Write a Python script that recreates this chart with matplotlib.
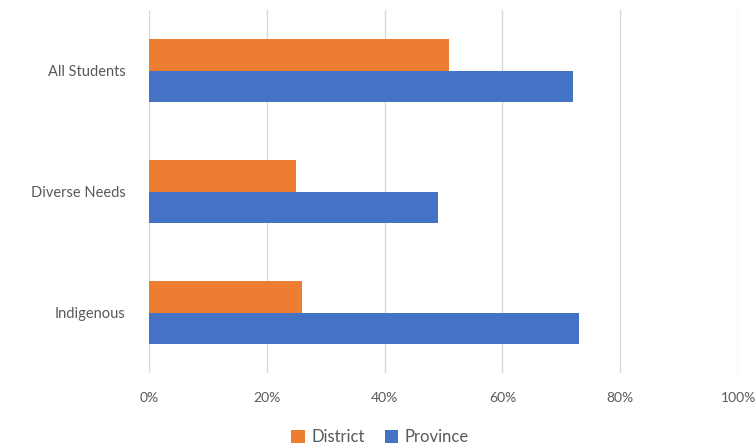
import matplotlib
matplotlib.use("Agg")
import matplotlib.pyplot as plt
import numpy as np
from matplotlib.ticker import PercentFormatter

categories = ["All Students", "Diverse Needs", "Indigenous"]
district = [51, 25, 26]
province = [72, 49, 73]
x_ticks = [0, 20, 40, 60, 80, 100]

plt.rcParams['font.family'] = ['Lato', 'DejaVu Sans']

fig = plt.figure(figsize=(7.56, 4.47), dpi=100)
ax = fig.add_axes([149 / 756, 1 - 373 / 447, (738 - 149) / 756, (373 - 10) / 447])

pos = np.arange(len(categories))[::-1]
h = 0.26
ax.barh(pos + h / 2, district, height=h, color="#ED7D31", label="District", zorder=3)
ax.barh(pos - h / 2, province, height=h, color="#4472C4", label="Province", zorder=3)

ax.set_xlim(0, 100)
ax.set_ylim(-0.5, 2.5)
ax.set_xticks(x_ticks)
ax.xaxis.set_major_formatter(PercentFormatter(decimals=0))
ax.set_yticks(pos)
ax.set_yticklabels(categories)
ax.grid(axis="x", color="#D9D9D9", linewidth=1, zorder=0)
for s in ax.spines.values():
    s.set_visible(False)
ax.tick_params(axis="x", length=0, pad=14, labelsize=10, labelcolor="#595959")
ax.tick_params(axis="y", length=0, pad=17, labelsize=10.5, labelcolor="#595959")

ax.legend(loc="center", bbox_to_anchor=(380 / 756, 1 - 437 / 447), bbox_transform=fig.transFigure,
          ncol=2, frameon=False, fontsize=12, handlelength=0.8, handleheight=0.8,
          handletextpad=0.4, columnspacing=1.2, labelcolor="#595959")

fig.savefig("out.png", dpi=100)
